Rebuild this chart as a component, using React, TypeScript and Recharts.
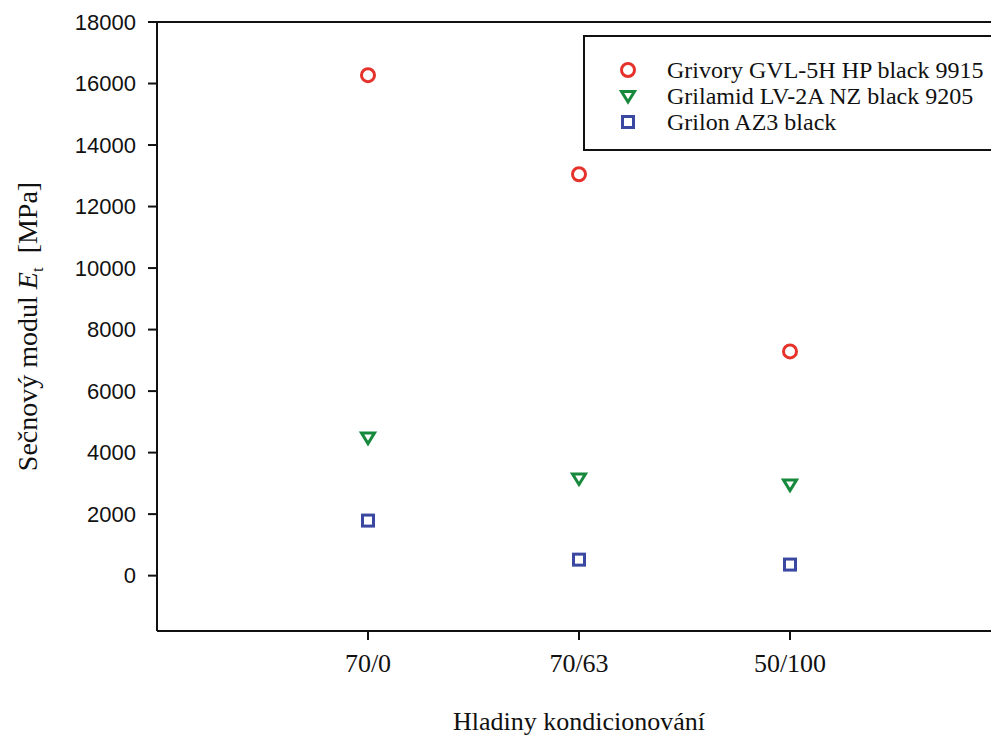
import React from 'react';
import { ScatterChart, Scatter, XAxis, YAxis, Label, ReferenceLine } from 'recharts';

// conditioning levels on the x axis
const categories = ['70/0', '70/63', '50/100'];

// secant modulus Et [MPa]
const grivory = [16270, 13050, 7290];
const grilamid = [4490, 3160, 2960];
const grilon = [1790, 520, 360];

const yTicks = [0, 2000, 4000, 6000, 8000, 10000, 12000, 14000, 16000, 18000];

const RED = '#e5322b';
const GREEN = '#17893c';
const BLUE = '#3b48a2';

const SERIF = '"Liberation Serif", "Times New Roman", serif';
const SANS = '"Liberation Sans", Arial, sans-serif';

const toRows = (values: number[]) => values.map((v, i) => ({ x: i + 1, y: v }));

const OpenCircle = (props: any) => (
  <circle cx={props.cx} cy={props.cy} r={6.5} fill="none" stroke={RED} strokeWidth={3} />
);

const OpenTriangle = (props: any) => {
  const { cx, cy } = props;
  const pts = `${cx - 6.5},${cy - 4.5} ${cx + 6.5},${cy - 4.5} ${cx},${cy + 6}`;
  return <polygon points={pts} fill="none" stroke={GREEN} strokeWidth={3} strokeLinejoin="miter" />;
};

const OpenSquare = (props: any) => (
  <rect x={props.cx - 5.5} y={props.cy - 5.5} width={11} height={11} fill="none" stroke={BLUE} strokeWidth={3} />
);

const legendItems = [
  { name: 'Grivory GVL-5H HP black 9915', Shape: OpenCircle },
  { name: 'Grilamid LV-2A NZ black 9205', Shape: OpenTriangle },
  { name: 'Grilon AZ3 black', Shape: OpenSquare },
];

// legend drawn as an overlay so it doesn't eat into the plot area
const LegendBox = () => (
  <div
    style={{
      position: 'absolute',
      left: 583,
      top: 35,
      border: '2px solid #111',
      background: '#fff',
      width: 440,
      height: 116,
      paddingTop: 20,
      boxSizing: 'border-box',
    }}
  >
    {legendItems.map(({ name, Shape }) => (
      <div key={name} style={{ display: 'flex', alignItems: 'center', height: 26 }}>
        <svg width={20} height={20} style={{ marginLeft: 33, marginRight: 29 }}>
          <Shape cx={10} cy={10} />
        </svg>
        <span style={{ fontFamily: SERIF, fontSize: 24, color: '#111', lineHeight: '26px' }}>{name}</span>
      </div>
    ))}
  </div>
);

const YTitle = (props: any) => {
  const { viewBox } = props;
  const cy = viewBox.y + viewBox.height / 2;
  const x = 37;
  return (
    <text
      x={x}
      y={cy}
      transform={`rotate(-90, ${x}, ${cy})`}
      textAnchor="middle"
      fontFamily={SERIF}
      fontSize={28}
      fill="#111"
    >
      Sečnový modul <tspan fontStyle="italic">E</tspan>
      <tspan fontSize={17} dy={6}>t</tspan>
      <tspan dy={-6}>{'\u00a0\u00a0[MPa]'}</tspan>
    </text>
  );
};

export default function App() {
  return (
    <div
      style={{
        position: 'absolute',
        left: 0,
        top: 0,
        width: 991,
        height: 738,
        overflow: 'hidden',
        background: '#fff',
      }}
    >
      <ScatterChart width={1020} height={738} margin={{ top: 22, right: 19, bottom: 0, left: 0 }}>
        <XAxis
          type="number"
          dataKey="x"
          domain={[0, 4]}
          ticks={[1, 2, 3]}
          tickFormatter={(v: number) => categories[v - 1] ?? ''}
          height={107}
          axisLine={{ stroke: '#111', strokeWidth: 2 }}
          tickLine={{ stroke: '#111', strokeWidth: 2 }}
          tickSize={9}
          tickMargin={14}
          tick={{ fontFamily: SERIF, fontSize: 26, fill: '#111' }}
          allowDataOverflow
        >
          <Label
            content={(p: any) => (
              <text
                x={p.viewBox.x + p.viewBox.width / 2}
                y={730}
                textAnchor="middle"
                fontFamily={SERIF}
                fontSize={26}
                fill="#111"
              >
                Hladiny kondicionování
              </text>
            )}
          />
        </XAxis>
        <YAxis
          type="number"
          dataKey="y"
          domain={[-1800, 18000]}
          ticks={yTicks}
          width={157}
          axisLine={{ stroke: '#111', strokeWidth: 2 }}
          tickLine={{ stroke: '#111', strokeWidth: 2 }}
          tickSize={9}
          tickMargin={12}
          tick={{ fontFamily: SANS, fontSize: 22, fill: '#111' }}
          allowDataOverflow
        >
          <Label content={<YTitle />} />
        </YAxis>
        <ReferenceLine y={18000} stroke="#111" strokeWidth={2} />
        <ReferenceLine x={4} stroke="#111" strokeWidth={2} />
        <Scatter name="Grivory GVL-5H HP black 9915" data={toRows(grivory)} shape={OpenCircle} isAnimationActive={false} />
        <Scatter name="Grilamid LV-2A NZ black 9205" data={toRows(grilamid)} shape={OpenTriangle} isAnimationActive={false} />
        <Scatter name="Grilon AZ3 black" data={toRows(grilon)} shape={OpenSquare} isAnimationActive={false} />
      </ScatterChart>
      <LegendBox />
    </div>
  );
}
